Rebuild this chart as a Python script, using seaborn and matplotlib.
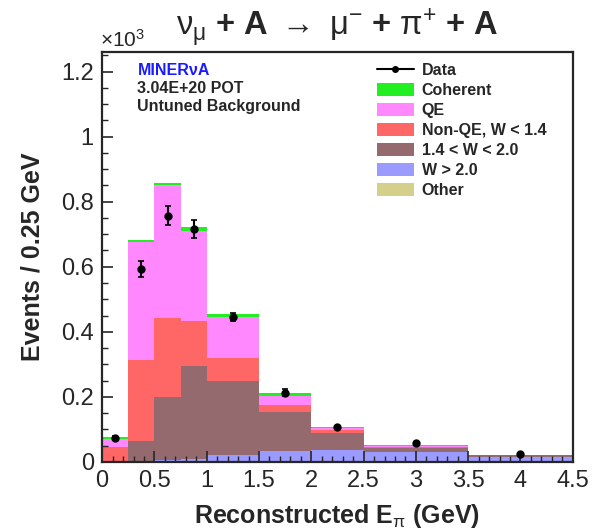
import numpy as np
import pandas as pd
import seaborn as sns
import matplotlib.pyplot as plt
from matplotlib.lines import Line2D
from matplotlib.patches import Patch
from matplotlib.ticker import MultipleLocator, FuncFormatter

# bin edges (GeV) and stacked MC components (x10^3 events / 0.25 GeV)
edges = [0, 0.25, 0.5, 0.75, 1.0, 1.5, 2.0, 2.5, 3.5, 4.5]
components = ["Coherent", "QE", "Non-QE, W < 1.4", "1.4 < W < 2.0", "W > 2.0", "Other"]
colors = ["#22ee22", "#ff88ff", "#ff6666", "#946a6e", "#9a9aff", "#d4cf8a"]

coherent = [0.005, 0.006, 0.007, 0.012, 0.011, 0.009, 0.005, 0.003, 0.0]
qe = [0.025, 0.363, 0.411, 0.277, 0.125, 0.029, 0.006, 0.002, 0.0003]
nonqe = [0.042, 0.247, 0.240, 0.137, 0.071, 0.021, 0.008, 0.002, 0.0003]
w14_20 = [0.001, 0.061, 0.195, 0.286, 0.227, 0.119, 0.053, 0.012, 0.0055]
w_gt20 = [0.001, 0.002, 0.004, 0.006, 0.019, 0.032, 0.034, 0.030, 0.015]
other = [0.002, 0.002, 0.002, 0.003, 0.003, 0.003, 0.003, 0.002, 0.001]

data_x = [0.125, 0.375, 0.625, 0.875, 1.25, 1.75, 2.25, 3.0, 4.0]
data_y = [0.075, 0.594, 0.757, 0.716, 0.446, 0.213, 0.107, 0.0575, 0.0246]
data_err = [0.006, 0.025, 0.029, 0.028, 0.012, 0.010, 0.005, 0.003, 0.002]

centers = [(a + b) / 2 for a, b in zip(edges[:-1], edges[1:])]
rows = []
for name, vals in zip(components, [coherent, qe, nonqe, w14_20, w_gt20, other]):
    for c, v in zip(centers, vals):
        rows.append({"x": c, "w": v, "comp": name})
df = pd.DataFrame(rows)

sns.set_style("ticks")
plt.rcParams["font.family"] = ["Liberation Sans", "DejaVu Sans"]
plt.rcParams["mathtext.fontset"] = "custom"
plt.rcParams["mathtext.rm"] = "Liberation Sans"
plt.rcParams["mathtext.bf"] = "Liberation Sans:bold"
plt.rcParams["mathtext.it"] = "Liberation Sans:italic"

fig = plt.figure(figsize=(6.01, 5.31), dpi=100)
ax = fig.add_axes([0.170, 0.130, 0.783, 0.772])

sns.histplot(data=df, x="x", weights="w", hue="comp", hue_order=components,
             palette=colors, multiple="stack", bins=edges, element="step",
             fill=True, alpha=1, linewidth=0, legend=False, ax=ax)

ax.errorbar(data_x, data_y, yerr=data_err, fmt="o", color="black",
            markersize=5, elinewidth=1.5, capsize=2, capthick=1.2, zorder=5)

ax.set_axisbelow(False)
ax.set_xlim(0, 4.5)
ax.set_ylim(0, 1.26)
ax.xaxis.set_major_locator(MultipleLocator(0.5))
ax.xaxis.set_minor_locator(MultipleLocator(0.1))
ax.yaxis.set_major_locator(MultipleLocator(0.2))
ax.yaxis.set_minor_locator(MultipleLocator(0.05))
fmt = FuncFormatter(lambda v, p: "%g" % round(v, 3))
ax.xaxis.set_major_formatter(fmt)
ax.yaxis.set_major_formatter(fmt)
ax.tick_params(which="major", direction="in", length=8, width=1.2, labelsize=17, pad=6)
ax.tick_params(which="minor", direction="in", length=4, width=1.0)
for s in ax.spines.values():
    s.set_linewidth(1.6)
    s.set_visible(True)
    s.set_zorder(6)

ax.set_xlabel(r"Reconstructed E$_{\mathrm{\pi}}$ (GeV)", fontsize=18, fontweight="bold", labelpad=7)
ax.set_ylabel("Events / 0.25 GeV", fontsize=18, fontweight="bold", labelpad=12)

fig.text(0.166, 0.905, r"$\mathrm{\times 10^{3}}$", fontsize=15, ha="left", va="bottom")
fig.text(0.561, 0.948,
         r"$\mathrm{\nu_{\mu}}\ \mathbf{+\ A}\ \rightarrow\ \mathrm{\mu^{-}}\ \mathbf{+}\ \mathrm{\pi^{+}}\ \mathbf{+\ A}$",
         fontsize=23.5, ha="center", va="center")

ax.text(0.075, 0.955, "MINERνA", transform=ax.transAxes, color="#1a1aff",
        fontsize=11.5, fontweight="bold", va="center")
ax.text(0.075, 0.910, "3.04E+20 POT", transform=ax.transAxes,
        fontsize=11.5, fontweight="bold", va="center")
ax.text(0.075, 0.868, "Untuned Background", transform=ax.transAxes,
        fontsize=11.5, fontweight="bold", va="center")

handles = [Line2D([0], [0], color="black", marker="o", markersize=4, linewidth=1.5)]
handles += [Patch(facecolor=c, edgecolor="none") for c in colors]
ax.legend(handles, ["Data"] + components, loc="upper left", bbox_to_anchor=(0.56, 1.0),
          frameon=False, prop={"weight": "bold", "size": 11.5}, handlelength=2.3,
          handleheight=0.9, labelspacing=0.3, handletextpad=0.5, borderaxespad=0.3)

fig.savefig("out.png", dpi=100)
